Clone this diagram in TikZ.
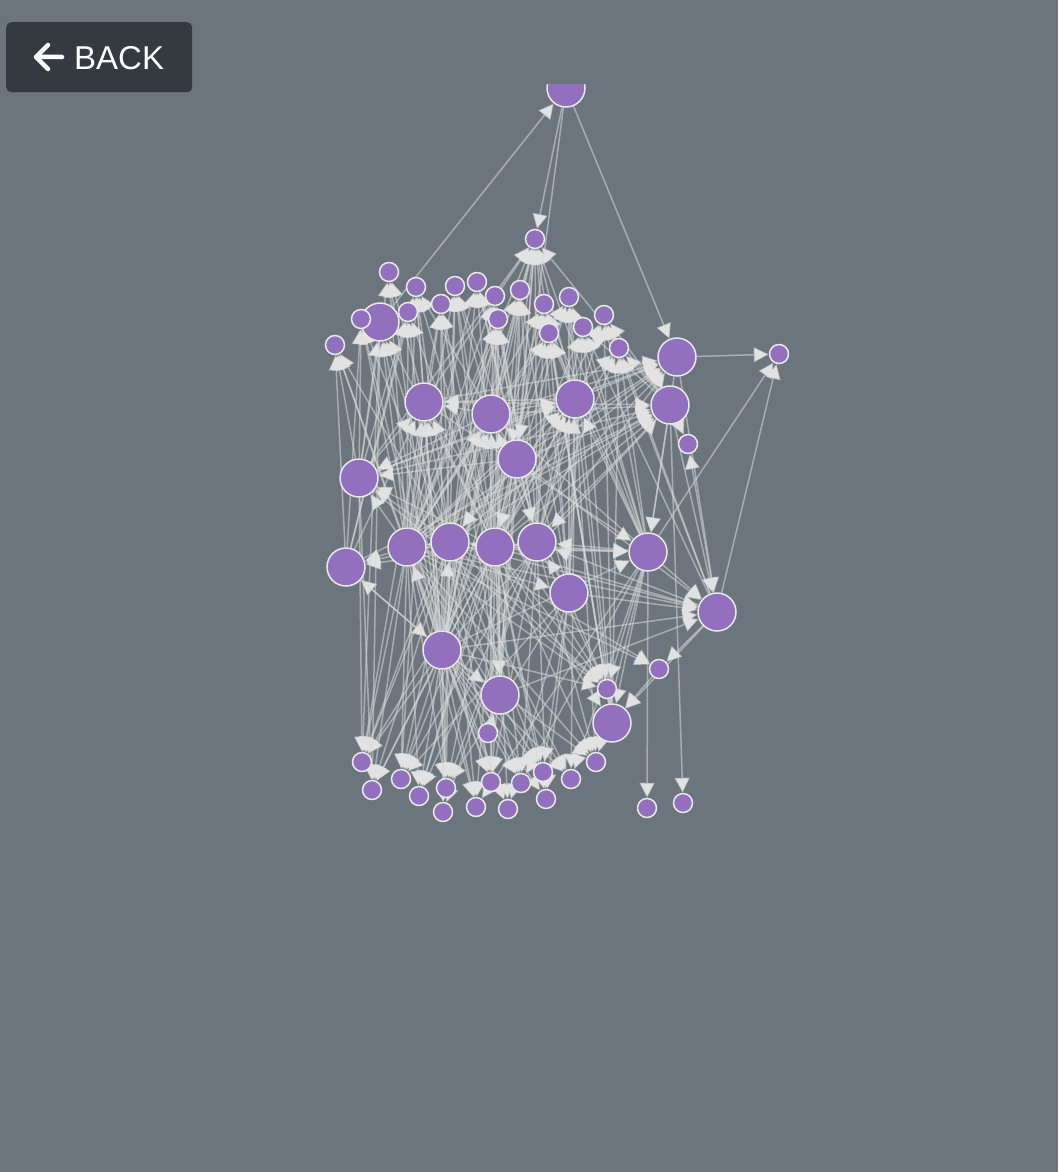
\documentclass[tikz,border=0pt]{standalone}
\usepackage{fontspec}
\newfontfamily\btnfont{Liberation Sans}
\usetikzlibrary{arrows.meta}
\definecolor{bgc}{HTML}{6C757D}
\definecolor{btnc}{HTML}{343A40}
\definecolor{nodec}{HTML}{9370BD}
\definecolor{strokec}{HTML}{E8E8E8}
\definecolor{edgec}{HTML}{DADADA}
\definecolor{tipc}{HTML}{E2E2E2}
\pgfdeclarelayer{bg}
\pgfdeclarelayer{edges}
\pgfsetlayers{bg,edges,main}
\begin{document}
\begin{tikzpicture}[x=1pt,y=-1pt,
  big/.style={circle, fill=nodec, draw=strokec, line width=1.5pt, minimum size=38pt, inner sep=0pt},
  small/.style={circle, fill=nodec, draw=strokec, line width=1.5pt, minimum size=19pt, inner sep=0pt},
  edge/.style={draw=edgec, draw opacity=0.55, line width=1.5pt,
    -{Triangle[length=15pt,width=15pt,color=tipc,fill=tipc]}},
  btn/.style={fill=btnc, rounded corners=5pt, draw=none}]
\useasboundingbox (0,0) rectangle (1058,1172);
\begin{pgfonlayer}{bg}
  \fill[bgc] (0,0) rectangle (1058,1172);
\end{pgfonlayer}
% big nodes
\node[big] (B1) at (566,88) {};
\node[big] (B2) at (380,322) {};
\node[big] (B3) at (677,357) {};
\node[big] (B4) at (670,405) {};
\node[big] (B5) at (424,402) {};
\node[big] (B6) at (491,414) {};
\node[big] (B7) at (575,399) {};
\node[big] (B8) at (517,459) {};
\node[big] (B9) at (359,478) {};
\node[big] (B10) at (407,547) {};
\node[big] (B11) at (450,542) {};
\node[big] (B12) at (495,547) {};
\node[big] (B13) at (537,542) {};
\node[big] (B14) at (648,552) {};
\node[big] (B15) at (346,567) {};
\node[big] (B16) at (569,593) {};
\node[big] (B17) at (717,612) {};
\node[big] (B18) at (442,650) {};
\node[big] (B19) at (500,695) {};
\node[big] (B20) at (612,723) {};
% small top nodes
\node[small] (s1) at (535,239) {};
\node[small] (s2) at (389,272) {};
\node[small] (s3) at (416,287) {};
\node[small] (s4) at (455,286) {};
\node[small] (s5) at (477,282) {};
\node[small] (s6) at (495,296) {};
\node[small] (s7) at (520,290) {};
\node[small] (s8) at (544,304) {};
\node[small] (s9) at (569,297) {};
\node[small] (s10) at (604,315) {};
\node[small] (s11) at (441,304) {};
\node[small] (s12) at (408,312) {};
\node[small] (s13) at (361,319) {};
\node[small] (s14) at (498,319) {};
\node[small] (s15) at (549,333) {};
\node[small] (s16) at (583,327) {};
\node[small] (s17) at (619,348) {};
\node[small] (s18) at (335,345) {};
\node[small] (s19) at (779,354) {};
\node[small] (s20) at (688,444) {};
% small bottom nodes
\node[small] (t1) at (659,669) {};
\node[small] (t2) at (607,689) {};
\node[small] (t3) at (488,733) {};
\node[small] (t4) at (362,762) {};
\node[small] (t5) at (372,790) {};
\node[small] (t6) at (401,779) {};
\node[small] (t7) at (419,796) {};
\node[small] (t8) at (446,788) {};
\node[small] (t9) at (443,812) {};
\node[small] (t10) at (476,807) {};
\node[small] (t11) at (491,782) {};
\node[small] (t12) at (508,809) {};
\node[small] (t13) at (521,783) {};
\node[small] (t14) at (543,772) {};
\node[small] (t15) at (546,799) {};
\node[small] (t16) at (571,779) {};
\node[small] (t17) at (596,762) {};
\node[small] (t18) at (647,808) {};
\node[small] (t19) at (683,803) {};
% edges: target / sources
\begin{pgfonlayer}{edges}
\foreach \t/\srcs in {
  B1/{B2},
  s1/{B1,B5,B6,B7,B8,B11,B12,B13,B14,B4,B16,B10,B9,B18,B19,B20},
  s2/{B9,B10,B5,B18},
  s3/{B10,B11,B5,B12,B18,B8,B15},
  s4/{B11,B12,B6,B8,B18,B19,B10},
  s5/{B12,B13,B8,B16,B18,B10},
  s6/{B10,B18,B6,B13,B11,B19},
  s7/{B12,B13,B19,B16,B8,B10,B18},
  s8/{B13,B14,B7,B20,B12,B18,B10},
  s9/{B14,B7,B16,B12,B20,B10,B18},
  s10/{B14,B4,B17,B20,B12,B13},
  s11/{B10,B11,B18,B5,B12,B19},
  s12/{B10,B9,B15,B18,B12},
  s13/{B9,B15,B10,B18,B11},
  s14/{B12,B11,B8,B18,B19,B6,B10,B13},
  s15/{B13,B16,B14,B20,B7,B10,B18},
  s16/{B14,B16,B20,B17,B4,B12,B13},
  s17/{B14,B17,B20,B4,B13,B12,B10},
  s18/{B9,B15,B10,B18,B11},
  s19/{B3,B17,B14},
  s20/{B4,B17},
  B2/{B9,B10,B11,B12,B18},
  B3/{B1,B7,B13,B8,B12,B10,B5,B6,B9,B11},
  B4/{B5,B6,B10,B11,B12,B18,B8,B9,B15},
  B5/{B7,B6,B12,B10,B11,B18,B15,B9},
  B6/{B11,B12,B13,B18,B14,B10},
  B7/{B6,B12,B13,B14,B18,B16,B10,B11,B9},
  B8/{B1},
  B9/{B10,B8,B11,B12,B6},
  B10/{B11,B18},
  B11/{B12,B18,B8},
  B12/{B13,B8},
  B13/{B14,B16,B17,B4,B8},
  B14/{B4,B3,B10,B11,B12,B18,B5},
  B15/{B10,B18,B12,B11},
  B16/{B10},
  B17/{B10,B12,B18,B14,B4,B3,B11,B16,B19,B8},
  B18/{B15},
  B19/{B12,B18,t3},
  B20/{B14,B17,t1,B12},
  t1/{B10,B11,B17},
  t2/{B10,B11,B12,B13,B5,B6,B9,B14,B18,B7},
  t4/{B10,B11,B18,B5,B9,B6,B12,B2},
  t5/{B10,B11,B18,B12,B2,B9},
  t6/{B10,B11,B12,B18,B13,B16,B5},
  t7/{B10,B12,B18,B13,B8},
  t8/{B10,B11,B12,B13,B16,B18,B5},
  t9/{B11,B18,B13},
  t10/{B10,B11,B18,B12,B14},
  t11/{B10,B11,B12,B18,B13,B8,B6},
  t12/{B10,B18,B12,B16},
  t13/{B11,B12,B13,B18,B10,B14},
  t14/{B10,B11,B18,B12,B16},
  t15/{B12,B13,B18,B16},
  t16/{B10,B11,B18,B14,B7},
  t17/{B10,B12,B13,B18,B14,B7},
  t18/{B14},
  t19/{B4}}
{
  \foreach \s in \srcs { \draw[edge] (\s) -- (\t); }
}
\end{pgfonlayer}
% clip cover above the graph area
\fill[bgc] (0,0) rectangle (1058,84);
% back button
\node[btn, minimum width=186pt, minimum height=70pt, anchor=north west] (backbtn) at (6,22) {};
\draw[white, line width=4.5pt, line cap=round, line join=round]
  (37,57) -- (62,57) (48,45) -- (36,57) -- (48,69);
\node[anchor=base west, text=white, inner sep=0pt] (backtxt) at (74,70) {\btnfont\fontsize{33}{36}\selectfont BACK};
\end{tikzpicture}
\end{document}
